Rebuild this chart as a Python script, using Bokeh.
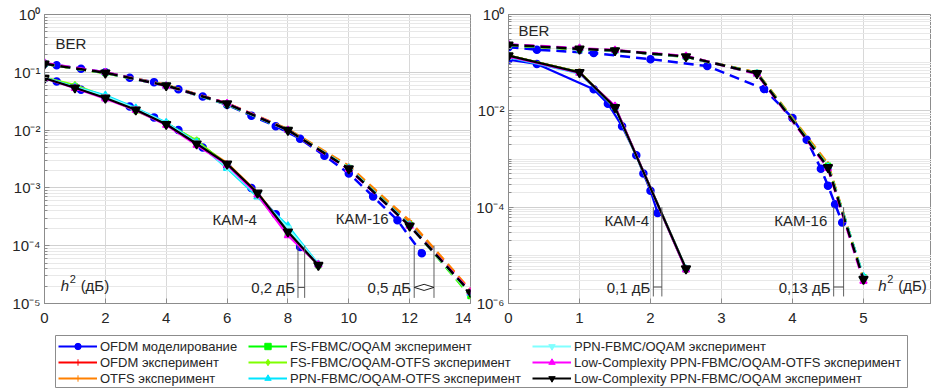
import math
from bokeh.plotting import figure
from bokeh.layouts import column, row
from bokeh.models import (FixedTicker, CustomJSTickFormatter, Label, Legend, LegendItem, Range1d)
from bokeh.embed import file_html
from bokeh.resources import INLINE

FONT = "Liberation Sans"
TXT = "#262626"

# ---------------- data ----------------
LABELS = ["OFDM моделирование", "OFDM эксперимент", "OTFS эксперимент",
          "FS-FBMC/OQAM эксперимент", "FS-FBMC/OQAM-OTFS эксперимент", "PPN-FBMC/OQAM-OTFS эксперимент",
          "PPN-FBMC/OQAM эксперимент", "Low-Complexity PPN-FBMC/OQAM-OTFS эксперимент",
          "Low-Complexity PPN-FBMC/OQAM эксперимент"]

# left panel, KAM-4 (solid)
L4_SIM_X = [0, 0.4, 1.2, 2.0, 2.8, 3.6, 4.4, 5.2, 6.0, 6.8, 7.6, 8.4]
L4_SIM_Y = [0.078, 0.0695, 0.050, 0.0363, 0.0257, 0.0166, 0.0100, 0.0050, 0.0024, 0.0010, 3.5e-4, 9.5e-5]
L4_X = [0, 1, 2, 3, 4, 5, 6, 7, 8, 9]
L4_RED = [0.080, 0.055, 0.036, 0.0225, 0.0127, 0.0059, 0.0026, 8.0e-4, 1.70e-4, 4.7e-5]
L4_ORANGE = [0.080, 0.055, 0.037, 0.0228, 0.0128, 0.0060, 0.0027, 8.3e-4, 1.80e-4, 4.8e-5]
L4_GREEN = [0.080, 0.057, 0.037, 0.0220, 0.0132, 0.0065, 0.0025, 7.6e-4, 1.60e-4, 4.6e-5]
L4_LGREEN = [0.081, 0.060, 0.038, 0.0215, 0.0130, 0.0066, 0.0024, 7.5e-4, 1.65e-4, 4.6e-5]
L4_CYAN = [0.080, 0.056, 0.040, 0.0240, 0.0135, 0.0062, 0.0022, 7.0e-4, 2.20e-4, 4.8e-5]
L4_LCYAN = [0.079, 0.055, 0.038, 0.0235, 0.0130, 0.0060, 0.0023, 7.5e-4, 2.00e-4, 4.7e-5]
L4_MAGENTA = [0.079, 0.053, 0.035, 0.0220, 0.0122, 0.0055, 0.0025, 7.6e-4, 1.50e-4, 4.7e-5]
L4_BLACK = [0.079, 0.054, 0.036, 0.0225, 0.0126, 0.0058, 0.0026, 8.2e-4, 1.74e-4, 4.6e-5]

# left panel, KAM-16 (dashed)
L16_SIM_X = [0, 0.4, 1.2, 2.0, 2.8, 3.6, 4.4, 5.2, 6.0, 6.8, 7.6, 8.4, 9.2, 10.0, 10.8, 11.6, 12.4]
L16_SIM_Y = [0.14, 0.133, 0.115, 0.100, 0.0805, 0.0676, 0.051, 0.038, 0.0275, 0.0178, 0.0117, 0.0071,
             0.0036, 0.00178, 7.1e-4, 2.75e-4, 7.4e-5]
L16_X = [0, 2, 4, 6, 8, 10, 12, 14]
L16_RED = [0.140, 0.098, 0.060, 0.0290, 0.0102, 0.0023, 2.5e-4, 1.65e-5]
L16_ORANGE = [0.140, 0.099, 0.060, 0.0290, 0.0104, 0.0024, 2.7e-4, 1.70e-5]
L16_GREEN = [0.140, 0.097, 0.059, 0.0280, 0.0100, 0.0022, 2.3e-4, 1.35e-5]
L16_LGREEN = [0.141, 0.097, 0.059, 0.0282, 0.0101, 0.0022, 2.3e-4, 1.40e-5]
L16_CYAN = [0.142, 0.099, 0.058, 0.0284, 0.0099, 0.0022, 2.3e-4, 1.50e-5]
L16_LCYAN = [0.141, 0.098, 0.059, 0.0285, 0.0100, 0.0022, 2.2e-4, 1.50e-5]
L16_MAGENTA = [0.145, 0.100, 0.058, 0.0290, 0.0100, 0.0021, 2.2e-4, 1.60e-5]
L16_BLACK = [0.140, 0.098, 0.059, 0.0286, 0.0100, 0.00215, 2.2e-4, 1.55e-5]

# right panel, KAM-4 (solid)
R4_SIM_X = [0, 0.4, 1.2, 1.4, 1.6, 1.8, 1.9, 2.0, 2.1]
R4_SIM_Y = [0.115, 0.094, 0.028, 0.0141, 0.0048, 0.0012, 5.0e-4, 2.2e-4, 7.6e-5]
R4_X = [0, 1, 1.5, 2.5]
R4_RED = [0.140, 0.063, 0.0120, 5.3e-6]
R4_ORANGE = [0.140, 0.063, 0.0121, 5.3e-6]
R4_GREEN = [0.140, 0.062, 0.0122, 5.1e-6]
R4_LGREEN = [0.138, 0.064, 0.0120, 5.2e-6]
R4_CYAN = [0.130, 0.060, 0.0120, 5.2e-6]
R4_LCYAN = [0.137, 0.062, 0.0115, 5.4e-6]
R4_MAGENTA = [0.135, 0.061, 0.0125, 5.0e-6]
R4_BLACK = [0.140, 0.063, 0.0118, 5.3e-6]

# right panel, KAM-16 (dashed)
R16_SIM_X = [0, 0.4, 1.2, 2.0, 2.8, 3.6, 4.0, 4.2, 4.4, 4.5, 4.6, 4.7]
R16_SIM_Y = [0.21, 0.186, 0.158, 0.118, 0.085, 0.0285, 0.0071, 0.0025, 6.3e-4, 2.8e-4, 1.15e-4, 4.8e-5]
R16_X = [0, 1, 1.5, 2.5, 3.5, 4.5, 5.0]
R16_RED = [0.234, 0.193, 0.179, 0.134, 0.061, 7.5e-4, 3.3e-6]
R16_ORANGE = [0.234, 0.193, 0.179, 0.134, 0.062, 8.0e-4, 3.3e-6]
R16_GREEN = [0.230, 0.190, 0.180, 0.132, 0.061, 7.2e-4, 3.5e-6]
R16_LGREEN = [0.232, 0.191, 0.181, 0.133, 0.060, 7.0e-4, 3.4e-6]
R16_CYAN = [0.236, 0.195, 0.178, 0.135, 0.059, 6.8e-4, 3.6e-6]
R16_LCYAN = [0.235, 0.194, 0.178, 0.134, 0.060, 6.9e-4, 3.4e-6]
R16_MAGENTA = [0.240, 0.200, 0.182, 0.137, 0.058, 6.4e-4, 2.9e-6]
R16_BLACK = [0.234, 0.193, 0.179, 0.134, 0.060, 6.7e-4, 3.2e-6]

# annotation positions (dB) and text
L_ANN4 = [8.33, 8.55]
L_ANN16 = [12.15, 12.8]
R_ANN4 = [2.04, 2.16]
R_ANN16 = [4.58, 4.72]
ANN_TEXT = ["0,2 дБ", "0,5 дБ", "0,1 дБ", "0,13 дБ"]

# ---------------- styles ----------------
COLORS = ["#0000FF", "#FF0000", "#FF8000", "#00FF00", "#7FFF00", "#00E5FF", "#80FFFF", "#FF00FF", "#000000"]
MARKERS = ["circle", "cross", "cross", "square", "diamond", "triangle", "inverted_triangle", "triangle",
           "inverted_triangle"]
MSIZE = [7, 5, 5, 5, 7, 7, 7, 7, 9]

SUP = """
const m = {"-":"\u207b","0":"\u2070","1":"\u00b9","2":"\u00b2","3":"\u00b3","4":"\u2074",
           "5":"\u2075","6":"\u2076","7":"\u2077","8":"\u2078","9":"\u2079"};
const e = Math.round(Math.log10(tick));
return "10" + String(e).split("").map(c => m[c]).join("");
"""


def make_fig(width, x_lim, y_lim, xticks, yticks, border_left, border_right):
    p = figure(width=width, height=330, x_range=Range1d(*x_lim), y_range=Range1d(*y_lim),
               y_axis_type="log", output_backend="svg", toolbar_location=None,
               min_border_left=border_left, min_border_right=border_right,
               min_border_top=14, min_border_bottom=27)
    lo = int(round(math.log10(y_lim[0])))
    minor = [k * 10.0 ** e for e in range(lo, 0) for k in range(1, 10)]
    p.yaxis.ticker = FixedTicker(ticks=yticks, minor_ticks=minor)
    p.xaxis.ticker = FixedTicker(ticks=xticks, minor_ticks=[])
    p.yaxis.formatter = CustomJSTickFormatter(code=SUP)
    for ax in (p.xaxis, p.yaxis):
        ax.major_label_text_font = FONT
        ax.major_label_text_font_size = "15px"
        ax.major_label_text_color = TXT
        ax.axis_line_color = "#8c8c8c"
        ax.major_tick_line_color = "#8c8c8c"
        ax.minor_tick_line_color = "#8c8c8c"
        ax.major_tick_in = 5
        ax.major_tick_out = 0
        ax.minor_tick_in = 3
        ax.minor_tick_out = 0
    p.xaxis.major_label_standoff = 9
    p.yaxis.major_label_standoff = 4
    p.outline_line_color = "#8c8c8c"
    p.xgrid.grid_line_color = "#d8d8d8"
    p.ygrid.grid_line_color = "#d0d0d0"
    p.ygrid.minor_grid_line_color = "#e8e8e8"
    p.background_fill_color = "white"
    return p


def series(p, x, y, i, dash):
    p.line(x, y, line_color=COLORS[i], line_width=2.5 if dash != "solid" else 2.2, line_dash=dash)
    p.scatter(x, y, marker=MARKERS[i], size=MSIZE[i], fill_color=COLORS[i], line_color=COLORS[i],
              line_width=1.5)


def txt(p, x, y, text, align="left", size="15px", italic=False, xo=0, yo=0):
    p.add_layout(Label(x=x, y=y, text=text, text_align=align, text_baseline="middle",
                       text_font=FONT, text_font_size=size, text_color=TXT,
                       text_font_style="italic" if italic else "normal", x_offset=xo, y_offset=yo))


# ---------------- left panel ----------------
left = make_fig(471, (0, 14), (1e-5, 1), list(range(0, 15, 2)),
                [10.0 ** e for e in range(-5, 1)], 44, 1)
L4_EXP = [L4_RED, L4_ORANGE, L4_GREEN, L4_LGREEN, L4_CYAN, L4_LCYAN, L4_MAGENTA, L4_BLACK]
L16_EXP = [L16_RED, L16_ORANGE, L16_GREEN, L16_LGREEN, L16_CYAN, L16_LCYAN, L16_MAGENTA, L16_BLACK]
series(left, L16_SIM_X, L16_SIM_Y, 0, "10 6")
series(left, L4_SIM_X, L4_SIM_Y, 0, "solid")
for i, ys in enumerate(L16_EXP):
    series(left, L16_X, ys, i + 1, "10 6")
for i, ys in enumerate(L4_EXP):
    series(left, L4_X, ys, i + 1, "solid")

# ---------------- right panel ----------------
right = make_fig(460, (0, 5.958), (1e-6, 1), list(range(0, 7)),
                 [1.0, 1e-2, 1e-4, 1e-6], 37, 0)
R4_EXP = [R4_RED, R4_ORANGE, R4_GREEN, R4_LGREEN, R4_CYAN, R4_LCYAN, R4_MAGENTA, R4_BLACK]
R16_EXP = [R16_RED, R16_ORANGE, R16_GREEN, R16_LGREEN, R16_CYAN, R16_LCYAN, R16_MAGENTA, R16_BLACK]
series(right, R16_SIM_X, R16_SIM_Y, 0, "10 6")
series(right, R4_SIM_X, R4_SIM_Y, 0, "solid")
for i, ys in enumerate(R16_EXP):
    series(right, R16_X, ys, i + 1, "10 6")
for i, ys in enumerate(R4_EXP):
    series(right, R4_X, ys, i + 1, "solid")


# ---------------- annotations ----------------
def bracket(p, xs, y_top, y_bot, y_mid, label, diamond=False):
    p.segment(x0=xs, y0=[y_top, y_top], x1=xs, y1=[y_bot, y_bot], line_color="#606060", line_width=1)
    if diamond:
        xm = (xs[0] + xs[1]) / 2
        p.patch([xs[0], xm, xs[1], xm], [y_mid, y_mid * 1.13, y_mid, y_mid / 1.13],
                fill_color="white", line_color="#202020", line_width=1)
    else:
        p.segment(x0=[xs[0]], y0=[y_mid], x1=[xs[1]], y1=[y_mid], line_color="#404040", line_width=1)
    txt(p, xs[0], y_mid, label, align="right", xo=-3)


bracket(left, L_ANN4, 1e-4, 1.25e-5, 1.9e-5, ANN_TEXT[0])
bracket(left, L_ANN16, 1e-4, 1.25e-5, 1.9e-5, ANN_TEXT[1], diamond=True)
bracket(right, R_ANN4, 1e-4, 1.4e-6, 2.2e-6, ANN_TEXT[2])
bracket(right, R_ANN16, 1e-4, 1.4e-6, 2.2e-6, ANN_TEXT[3])

txt(left, 0.36, 0.316, "BER")
txt(left, 6.25, 2.8e-4, "КАМ-4", align="center")
txt(left, 10.44, 2.9e-4, "КАМ-16", align="center")
txt(left, 0.53, 2.05e-5, "h", italic=True)
txt(left, 0.53, 2.05e-5, "2", size="11px", xo=9, yo=6)
txt(left, 0.53, 2.05e-5, "(дБ)", xo=20)

txt(right, 0.14, 0.46, "BER")
txt(right, 1.98, 5.3e-5, "КАМ-4", align="right")
txt(right, 4.49, 5.3e-5, "КАМ-16", align="right")
txt(right, 5.207, 2.4e-6, "h", italic=True)
txt(right, 5.207, 2.4e-6, "2", size="11px", xo=9, yo=6)
txt(right, 5.207, 2.4e-6, "(дБ)", xo=20)

# ---------------- legend ----------------
lf = figure(width=931, height=58, x_range=Range1d(0, 1), y_range=Range1d(0, 1),
            x_axis_type=None, y_axis_type=None, output_backend="svg", toolbar_location=None,
            min_border_left=55, min_border_right=24, min_border_top=5, min_border_bottom=0)
lf.outline_line_color = "#8c8c8c"
items = []
HIDDEN_X = [-3, -2]   # legend sample renderers, outside the visible range
HIDDEN_Y = [-3, -3]
for i, lab in enumerate(LABELS):
    r1 = lf.line(x=HIDDEN_X, y=HIDDEN_Y, line_color=COLORS[i], line_width=2.2)
    r2 = lf.scatter(x=HIDDEN_X, y=HIDDEN_Y, marker=MARKERS[i], size=max(MSIZE[i] - 2, 5),
                    fill_color=COLORS[i], line_color=COLORS[i])
    items.append(LegendItem(label=lab, renderers=[r1, r2]))
for c, xo in enumerate([3, 193, 477]):
    leg = Legend(items=items[3 * c:3 * c + 3], location=(xo, 2), orientation="vertical",
                 border_line_alpha=0, background_fill_alpha=0, spacing=0, padding=0, margin=0,
                 glyph_height=16, glyph_width=39, label_height=16, label_standoff=3,
                 label_text_font=FONT, label_text_font_size="13px", label_text_color=TXT)
    lf.add_layout(leg, "center")

layout = column(row(left, right), lf)
open("out.html", "w").write(file_html(layout, INLINE))
